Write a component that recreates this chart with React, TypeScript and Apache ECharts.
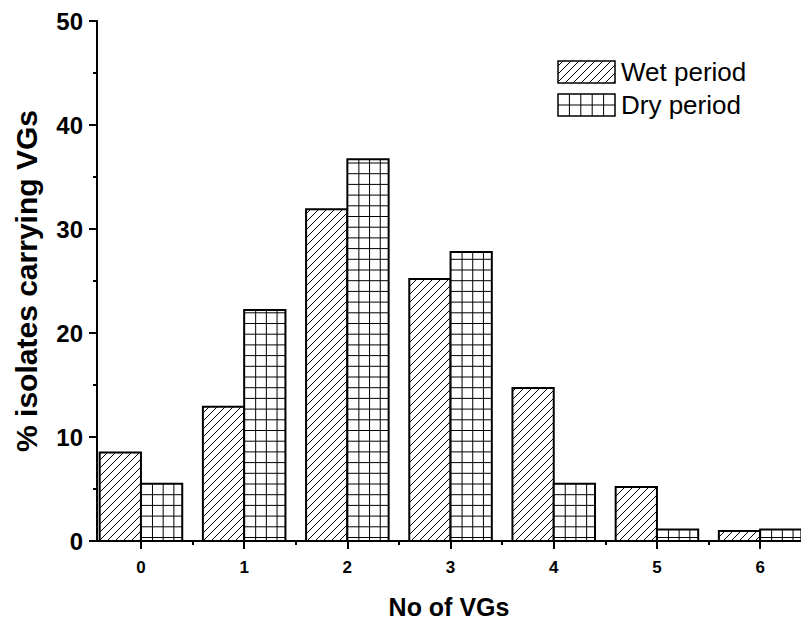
import React, { useEffect, useRef } from "react";
import * as echarts from "echarts";

const categories = ["0", "1", "2", "3", "4", "5", "6"];
const wetPeriod = [8.5, 12.9, 31.9, 25.2, 14.7, 5.2, 0.96];
const dryPeriod = [5.5, 22.2, 36.7, 27.8, 5.5, 1.1, 1.1];
const yTicks = [0, 10, 20, 30, 40, 50];
const seriesNames = ["Wet period", "Dry period"];

const FONT = "Arial, 'Liberation Sans', sans-serif";

type Box = { L: number; R: number; T: number; B: number };

function diagLines(b: Box, step: number) {
  const out: any[] = [];
  const kStart = Math.ceil((b.L + b.T) / step) * step;
  for (let k = kStart; k <= b.R + b.B; k += step) {
    const x1 = Math.max(b.L, k - b.B);
    const x2 = Math.min(b.R, k - b.T);
    if (x2 - x1 > 0.3) {
      out.push({
        type: "line",
        shape: { x1, y1: k - x1, x2, y2: k - x2 },
        style: { stroke: "#000", lineWidth: 1 },
        silent: true,
      });
    }
  }
  return out;
}

function gridLines(b: Box, sx: number, sy: number, offX: number, offY: number) {
  const out: any[] = [];
  for (let x = b.L + offX; x < b.R - 1; x += sx) {
    out.push({
      type: "line",
      shape: { x1: x, y1: b.T, x2: x, y2: b.B },
      style: { stroke: "#000", lineWidth: 1 },
      silent: true,
    });
  }
  for (let y = b.B - offY; y > b.T + 1; y -= sy) {
    out.push({
      type: "line",
      shape: { x1: b.L, y1: y, x2: b.R, y2: y },
      style: { stroke: "#000", lineWidth: 1 },
      silent: true,
    });
  }
  return out;
}

function makeRender(kind: "wet" | "dry") {
  return (params: any, api: any) => {
    const x = api.value(0);
    const v = api.value(1);
    const base = api.coord([x, 0]);
    const top = api.coord([x, v]);
    const bw = api.size([1, 0])[0] * 0.4;
    const L = kind === "wet" ? base[0] - bw : base[0];
    const R = L + bw;
    const T = top[1];
    const B = base[1];
    const box = { L, R, T, B };
    const hatch =
      kind === "wet" ? diagLines(box, 8) : gridLines(box, 10.7, 10.7, 11.5, 3.5);
    return {
      type: "group",
      children: [
        { type: "rect", shape: { x: L, y: T, width: bw, height: B - T }, style: { fill: "#fff" } },
        ...hatch,
        {
          type: "rect",
          shape: { x: L, y: T, width: bw, height: B - T },
          style: { fill: "none", stroke: "#000", lineWidth: 2 },
        },
      ],
    };
  };
}

function legendGraphic() {
  const items: any[] = [];
  const boxes = [
    { L: 558, R: 615, T: 61, B: 83 },
    { L: 558, R: 615, T: 94, B: 116 },
  ];
  boxes.forEach((b, i) => {
    items.push({ type: "rect", shape: { x: b.L, y: b.T, width: b.R - b.L, height: b.B - b.T }, style: { fill: "#fff" } });
    const h = i === 0 ? diagLines(b, 8) : gridLines(b, 11.4, 11, 11.4, 11);
    items.push(...h);
    items.push({
      type: "rect",
      shape: { x: b.L, y: b.T, width: b.R - b.L, height: b.B - b.T },
      style: { fill: "none", stroke: "#000", lineWidth: 1.5 },
    });
    items.push({
      type: "text",
      x: 621,
      y: (b.T + b.B) / 2,
      style: {
        text: seriesNames[i],
        font: `26px ${FONT}`,
        fill: "#000",
        verticalAlign: "middle",
        align: "left",
      },
    });
  });
  return items;
}

export default function App() {
  const ref = useRef<HTMLDivElement>(null);
  useEffect(() => {
    if (!ref.current) return;
    const chart = echarts.init(ref.current, null, { renderer: "svg" });
    const xMin = -0.426;
    const xMax = 6.396;
    const catIdx = categories.map((_, i) => i);
    chart.setOption({
      animation: false,
      backgroundColor: "#fff",
      grid: { left: 97, right: 0, top: 21, bottom: 82 },
      xAxis: [
        {
          type: "value",
          position: "bottom",
          min: xMin,
          max: xMax,
          axisLine: { show: true, onZero: false, lineStyle: { color: "#000", width: 2 } },
          axisTick: { show: true, customValues: catIdx, length: 8, lineStyle: { color: "#000", width: 2 } },
          axisLabel: {
            show: true,
            customValues: catIdx,
            formatter: (v: number) => categories[Math.round(v)] ?? "",
            color: "#000",
            fontWeight: "bold",
            fontSize: 17,
            fontFamily: FONT,
            margin: 18,
          },
          splitLine: { show: false },
          name: "No of VGs",
          nameLocation: "middle",
          nameGap: 53,
          nameTextStyle: { color: "#000", fontWeight: "bold", fontSize: 25, fontFamily: FONT },
        },
        {
          type: "value",
          position: "bottom",
          offset: 0,
          min: xMin,
          max: xMax,
          axisLine: { show: false, onZero: false },
          axisTick: {
            show: true,
            customValues: catIdx.slice(0, -1).map((i) => i + 0.5),
            length: 4,
            lineStyle: { color: "#000", width: 2 },
          },
          axisLabel: { show: false },
          splitLine: { show: false },
        },
      ],
      yAxis: {
        type: "value",
        min: yTicks[0],
        max: yTicks[yTicks.length - 1],
        interval: 10,
        axisLine: { show: true, onZero: false, lineStyle: { color: "#000", width: 2 } },
        axisTick: { show: true, length: 8, lineStyle: { color: "#000", width: 2 } },
        minorTick: { show: true, splitNumber: 2, length: 4, lineStyle: { color: "#000", width: 2 } },
        axisLabel: { color: "#000", fontWeight: "bold", fontSize: 24, fontFamily: FONT, margin: 14 },
        splitLine: { show: false },
        name: "% isolates carrying VGs",
        nameLocation: "middle",
        nameGap: 56,
        nameTextStyle: { color: "#000", fontWeight: "bold", fontSize: 30, fontFamily: FONT },
      },
      series: [
        {
          type: "custom",
          name: seriesNames[0],
          xAxisIndex: 0,
          yAxisIndex: 0,
          clip: false,
          renderItem: makeRender("wet"),
          encode: { x: 0, y: 1 },
          data: catIdx.map((i) => [i, wetPeriod[i]]),
          z: 1,
        },
        {
          type: "custom",
          name: seriesNames[1],
          xAxisIndex: 0,
          yAxisIndex: 0,
          clip: false,
          renderItem: makeRender("dry"),
          encode: { x: 0, y: 1 },
          data: catIdx.map((i) => [i, dryPeriod[i]]),
          z: 1,
        },
      ],
      graphic: legendGraphic(),
    });
    return () => chart.dispose();
  }, []);
  return (
    <div
      ref={ref}
      style={{ position: "absolute", left: 0, top: 0, width: 801, height: 624, background: "#fff" }}
    />
  );
}
